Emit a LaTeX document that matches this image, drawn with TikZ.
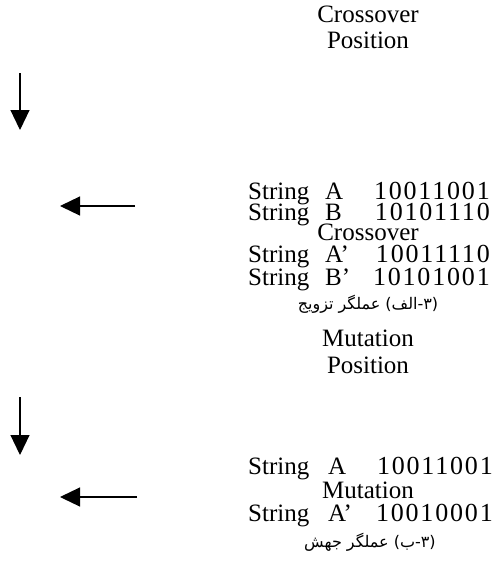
\documentclass[tikz,border=0pt]{standalone}
\usepackage{fontspec}
\setmainfont{Liberation Serif}
\newfontfamily\farsifont[Script=Arabic]{DejaVu Sans}
\TeXXeTstate=1
\usetikzlibrary{arrows.meta}

\begin{document}
\begin{tikzpicture}[x=1pt, y=-1pt,
  every node/.style={inner sep=0pt, font=\fontsize{25}{28}\selectfont},
  word/.style={anchor=base west},
  bits/.style={anchor=base east, font=\fontsize{26}{28}\selectfont\addfontfeature{LetterSpace=7}},
  title/.style={anchor=base},
  caption/.style={anchor=base, font=\fontsize{16}{20}\farsifont},
  flow/.style={line width=1.2pt, -{Triangle[width=19pt,length=20pt]}}]
\useasboundingbox (0,0) rectangle (494,576);

% crossover
\node[title] (cTitle) at (368,22) {Crossover};
\node[title] (cPos) at (368,48) {Position};
\coordinate (cDownA) at (20,73);
\coordinate (cDownB) at (20,130);
\draw[flow] (cDownA) -- (cDownB);

\node[word] (sA) at (248,199) {String};
\node[word] (nA) at (325,199) {A};
\node[bits] (bA) at (490,199) {10011001};
\node[word] (sB) at (248,220) {String};
\node[word] (nB) at (325,220) {B};
\node[bits] (bB) at (490,220) {10101110};
\coordinate (cLeftA) at (135,206);
\coordinate (cLeftB) at (60,206);
\draw[flow] (cLeftA) -- (cLeftB);
\node[title] (cOp) at (368,240) {Crossover};
\node[word] (sA2) at (248,262) {String};
\node[word] (nA2) at (325,262) {A’};
\node[bits] (bA2) at (490,262) {10011110};
\node[word] (sB2) at (248,285) {String};
\node[word] (nB2) at (325,285) {B’};
\node[bits] (bB2) at (490,285) {10101001};
\node[caption] (capA) at (368,309) {\beginR(۳-الف) عملگر تزویج\endR};

% mutation
\node[title] (mTitle) at (368,346) {Mutation};
\node[title] (mPos) at (368,373) {Position};
\coordinate (mDownA) at (20,397);
\coordinate (mDownB) at (20,455);
\draw[flow] (mDownA) -- (mDownB);

\node[word] (sM) at (248,474) {String};
\node[word] (nM) at (328,474) {A};
\node[bits] (bM) at (493,474) {10011001};
\coordinate (mLeftA) at (137,497);
\coordinate (mLeftB) at (60,497);
\draw[flow] (mLeftA) -- (mLeftB);
\node[title] (mOp) at (368,498) {Mutation};
\node[word] (sM2) at (248,521) {String};
\node[word] (nM2) at (328,521) {A’};
\node[bits] (bM2) at (493,521) {10010001};
\node[caption] (capB) at (370,547) {\beginR(۳-ب) عملگر جهش\endR};
\end{tikzpicture}
\end{document}
